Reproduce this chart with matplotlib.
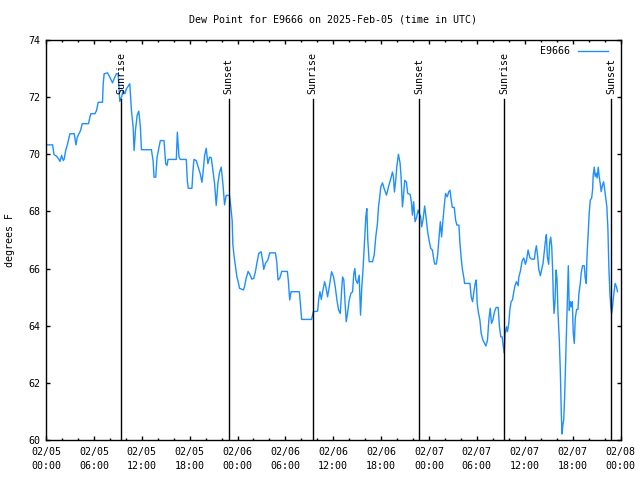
import numpy as np
import pandas as pd
import matplotlib
matplotlib.use("Agg")
import matplotlib.pyplot as plt
import matplotlib.dates as mdates

# dew point readings, hours after 2025-02-05 00:00 UTC
hours = [0.1, 0.83, 1.0, 1.33, 1.58, 1.75, 1.96, 2.17, 2.29, 2.46, 2.67, 3.0, 3.54, 3.75, 3.92,
         4.13, 4.33, 4.54, 5.33, 5.5, 5.63, 6.13, 6.33, 6.54, 7.08, 7.17, 7.29, 7.71, 8.0, 8.33,
         8.63, 8.83, 9.04, 9.25, 9.46, 9.67, 9.88, 10.08, 10.5, 10.71, 10.92, 11.04, 11.21, 11.42,
         11.63, 11.83, 11.96, 13.21, 13.42, 13.54, 13.75, 13.92, 14.17, 14.33, 14.79, 15.0, 15.17,
         15.29, 16.33, 16.46, 16.67, 16.83, 17.58, 17.71, 17.83, 18.29, 18.42, 18.54, 18.83, 19.08,
         19.33, 19.54, 19.67, 19.88, 20.08, 20.29, 20.5, 20.71, 20.92, 21.13, 21.33, 21.54, 21.75,
         21.96, 22.17, 22.38, 22.58, 23.0, 23.21, 23.33, 23.42, 23.58, 23.75, 23.92, 24.08, 24.25,
         24.75, 24.88, 25.08, 25.33, 25.58, 25.79, 26.04, 26.25, 26.46, 26.67, 26.96, 27.17, 27.29,
         27.5, 27.79, 28.04, 28.75, 28.92, 29.08, 29.29, 29.54, 30.25, 30.38, 30.54, 30.71, 31.75,
         31.88, 32.04, 33.29, 33.5, 34.04, 34.17, 34.33, 34.5, 34.67, 34.92, 35.08, 35.29, 35.5,
         35.79, 36.04, 36.25, 36.46, 36.67, 36.88, 37.04, 37.17, 37.33, 37.46, 37.63, 37.79, 38.0,
         38.21, 38.42, 38.58, 38.71, 38.83, 39.04, 39.25, 39.42, 39.58, 39.75, 39.88, 40.08, 40.21,
         40.33, 40.5, 40.92, 41.13, 41.33, 41.54, 41.67, 41.83, 41.96, 42.17, 42.38, 42.67, 42.92,
         43.21, 43.42, 43.54, 43.67, 43.83, 43.96, 44.17, 44.38, 44.5, 44.67, 44.79, 44.96, 45.17,
         45.33, 45.63, 45.79, 45.92, 46.08, 46.25, 46.46, 46.63, 46.75, 46.96, 47.08, 47.25, 47.46,
         47.67, 47.83, 48.0, 48.21, 48.42, 48.58, 48.71, 48.92, 49.08, 49.25, 49.42, 49.58, 49.75,
         49.92, 50.08, 50.29, 50.46, 50.63, 50.79, 50.92, 51.17, 51.33, 51.5, 51.75, 51.88, 52.04,
         52.17, 52.38, 52.46, 53.13, 53.29, 53.46, 53.63, 53.79, 53.92, 54.04, 54.21, 54.38, 54.54,
         54.75, 54.96, 55.13, 55.33, 55.5, 55.67, 55.83, 56.0, 56.21, 56.42, 56.67, 56.83, 57.0,
         57.17, 57.29, 57.42, 57.54, 57.71, 57.83, 58.0, 58.13, 58.29, 58.46, 58.63, 58.79, 58.96,
         59.17, 59.25, 59.46, 59.67, 59.88, 60.08, 60.21, 60.42, 60.63, 60.83, 61.21, 61.33, 61.46,
         61.63, 61.75, 61.96, 62.08, 62.29, 62.46, 62.58, 62.71, 62.83, 63.0, 63.13, 63.25, 63.38,
         63.5, 63.58, 63.67, 63.79, 63.92, 64.04, 64.17, 64.33, 64.46, 64.58, 64.67, 64.75, 64.88,
         65.0, 65.13, 65.25, 65.38, 65.46, 65.58, 65.71, 65.83, 65.96, 66.08, 66.21, 66.33, 66.5,
         66.67, 66.79, 66.96, 67.08, 67.25, 67.46, 67.58, 67.71, 67.79, 67.92, 68.08, 68.21, 68.38,
         68.5, 68.58, 68.71, 68.83, 68.96, 69.08, 69.21, 69.33, 69.46, 69.58, 69.75, 69.88, 70.0,
         70.13, 70.29, 70.42, 70.54, 70.67, 70.79, 70.88, 71.0, 71.17, 71.33, 71.5, 71.63]
dewpoint = [70.33, 70.33, 69.99, 69.93, 69.84, 69.75, 69.96, 69.78, 69.84, 70.13, 70.33, 70.72, 70.72, 70.33, 70.6,
            70.72, 70.83, 71.07, 71.07, 71.3, 71.42, 71.42, 71.53, 71.82, 71.82, 72.47, 72.82, 72.85, 72.7, 72.5,
            72.7, 72.82, 72.82, 71.85, 72.0, 72.23, 72.12, 72.29, 72.47, 71.53, 70.95, 70.13, 70.83, 71.36,
            71.51, 70.95, 70.16, 70.16, 69.78, 69.2, 69.2, 69.9, 70.25, 70.48, 70.48, 69.67, 69.61,
            69.82, 69.82, 70.77, 69.9, 69.82, 69.82, 69.08, 68.81, 68.81, 69.43, 69.82, 69.78, 69.55,
            69.32, 69.02, 69.32, 69.96, 70.21, 69.67, 69.9, 69.88, 69.43, 68.97, 68.21, 68.97, 69.37,
            69.55, 68.97, 68.23, 68.56, 68.56, 68.03, 67.68, 66.83, 66.42, 66.07, 65.72, 65.55, 65.31,
            65.25, 65.37, 65.66, 65.9, 65.78, 65.63, 65.66, 65.9, 66.24, 66.53, 66.59, 66.24, 65.97,
            66.18, 66.29, 66.55, 66.55, 66.24, 65.6, 65.66, 65.9, 65.9, 65.55, 64.9, 65.19, 65.19,
            64.78, 64.22, 64.22, 64.49, 64.51, 64.9, 65.19, 64.92, 65.19, 65.54, 65.36, 65.01, 65.36,
            65.89, 65.71, 65.36, 64.9, 64.55, 64.43, 65.19, 65.71, 65.6, 64.9, 64.14, 64.43, 64.9,
            65.13, 65.19, 65.83, 66.0, 65.6, 65.48, 65.77, 64.37, 65.36, 66.06, 66.76, 67.81, 68.1,
            67.0, 66.24, 66.24, 66.47, 67.11, 67.58, 68.16, 68.51, 68.86, 69.0, 68.8, 68.57, 68.86,
            69.15, 69.38, 69.21, 68.68, 69.09, 69.56, 70.0, 69.68, 69.21, 68.16, 68.51, 69.09, 69.03,
            68.63, 68.6, 68.34, 67.87, 68.34, 67.64, 67.81, 68.05, 67.95, 67.81, 67.46, 67.7, 68.19,
            67.7, 67.29, 67.0, 66.71, 66.65, 66.36, 66.16, 66.16, 66.47, 67.06, 67.64, 67.11, 67.7,
            68.22, 68.63, 68.51, 68.68, 68.74, 68.39, 68.14, 68.14, 67.7, 67.52, 67.52, 66.88, 66.36,
            66.0, 65.66, 65.48, 65.48, 65.01, 64.84, 65.19, 65.48, 65.6, 64.78, 64.43, 64.2, 63.73,
            63.5, 63.38, 63.29, 63.5, 64.2, 64.61, 64.08, 64.2, 64.49, 64.64, 64.64, 63.96, 63.61,
            63.61, 63.32, 63.05, 63.73, 63.96, 63.79, 64.08, 64.55, 64.84, 64.9, 65.19, 65.42, 65.54,
            65.4, 65.69, 65.92, 66.27, 66.37, 66.15, 66.27, 66.65, 66.39, 66.33, 66.33, 66.62, 66.8,
            66.39, 65.98, 65.75, 65.92, 66.18, 66.62, 66.94, 67.19, 66.42, 66.15, 66.93, 67.1, 66.77,
            65.9, 65.01, 64.43, 64.84, 65.95, 65.66, 64.43, 63.5, 62.39, 60.93, 60.21, 60.47, 60.7,
            61.52, 62.81, 64.08, 65.4, 66.1, 64.54, 64.84, 64.66, 64.84, 63.73, 63.38, 64.26, 64.57,
            64.57, 65.13, 65.48, 65.86, 66.1, 66.1, 65.67, 65.48, 66.36, 67.06, 67.94, 68.4, 68.46,
            68.75, 69.28, 69.55, 69.22, 69.34, 69.17, 69.55, 69.22, 68.98, 68.69, 68.93, 69.04, 68.81,
            68.51, 68.16, 67.4, 66.06, 65.13, 64.66, 64.43, 64.66, 65.13, 65.48, 65.36, 65.19]

sunrise_hours = [9.41, 33.41, 57.41]
sunset_hours = [22.9, 46.8, 70.8]

start = pd.Timestamp("2025-02-05 00:00")
times = start + pd.to_timedelta(hours, unit="h")
rise_t = start + pd.to_timedelta(sunrise_hours, unit="h")
set_t = start + pd.to_timedelta(sunset_hours, unit="h")

font = "DejaVu Sans Mono"
fs = 7.2
plt.rcParams["font.family"] = font
plt.rcParams["font.size"] = fs

fig = plt.figure(figsize=(6.4, 4.8), dpi=100)
ax = fig.add_axes([46 / 640, 40 / 480, 574.5 / 640, 400 / 480])

ax.plot(times, dewpoint, color="#1e8fff", lw=1.0, label="E9666")

# sun event markers
for t in rise_t:
    ax.plot([t, t], [60, 71.95], color="black", lw=1.0)
    ax.text(t, 72.12, "Sunrise", rotation=90, ha="center", va="bottom", fontsize=fs)
for t in set_t:
    ax.plot([t, t], [60, 71.95], color="black", lw=1.0)
    ax.text(t, 72.12, "Sunset", rotation=90, ha="center", va="bottom", fontsize=fs)

ax.set_xlim(start, start + pd.Timedelta(hours=72))
ax.set_ylim(60, 74)
ax.set_yticks(np.arange(60, 75, 2))

ax.xaxis.set_major_locator(mdates.HourLocator(byhour=[0, 6, 12, 18]))
ax.xaxis.set_minor_locator(mdates.HourLocator(byhour=range(0, 24, 2)))
ax.xaxis.set_major_formatter(mdates.DateFormatter("%m/%d\n%H:%M"))

ax.tick_params(which="both", direction="in", top=True, right=True, width=1)
ax.tick_params(which="major", length=3.2, pad=5)
ax.tick_params(which="minor", length=1.6)
ax.tick_params(axis="y", pad=4)
for lbl in ax.get_xticklabels():
    lbl.set_linespacing(1.5)

for s in ax.spines.values():
    s.set_linewidth(1.0)

ax.legend(loc="upper right", bbox_to_anchor=(1 - 6 / 574.5, 1), frameon=False,
          markerfirst=False, handlelength=3.0, borderaxespad=0.25, fontsize=fs)

fig.text(333 / 640, 1 - 19 / 480, "Dew Point for E9666 on 2025-Feb-05 (time in UTC)",
         ha="center", va="center", fontsize=fs)
fig.text(10 / 640, 0.5, "degrees F", rotation=90, ha="center", va="center", fontsize=fs)

fig.savefig("out.png", dpi=100)
